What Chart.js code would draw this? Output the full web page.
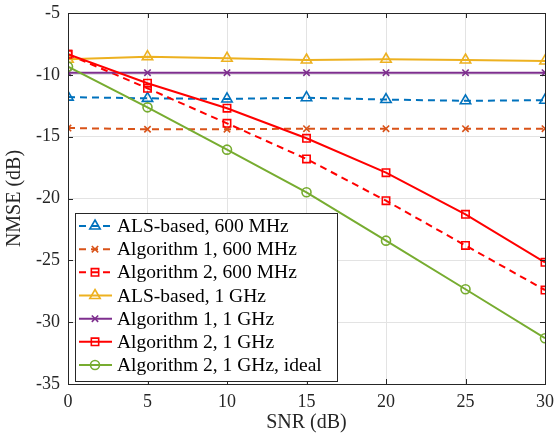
<!DOCTYPE html>
<html lang="en">
<head>
  <meta charset="UTF-8">
  <title>NMSE vs SNR</title>
  <script src="https://cdn.jsdelivr.net/npm/chart.js"></script>
  <style>
    body { margin: 0; background: white; }
    .wrap { position: relative; width: 555px; height: 436px; }
  </style>
</head>
<body>
  <div class="wrap">
    <canvas id="chart" width="555" height="436"></canvas>
  </div>
  <script>
    // data
    const snr = [0, 5, 10, 15, 20, 25, 30];
    const alsMHz600 = [-11.8, -11.9, -11.95, -11.85, -12.0, -12.1, -12.05];
    const alg1MHz600 = [-14.3, -14.4, -14.4, -14.35, -14.35, -14.35, -14.35];
    const alg2MHz600 = [-8.34, -11.09, -13.92, -16.8, -20.18, -23.8, -27.4];
    const alsGHz1 = [-8.74, -8.53, -8.66, -8.8, -8.74, -8.8, -8.88];
    const alg1GHz1 = [-9.83, -9.83, -9.83, -9.83, -9.83, -9.83, -9.83];
    const alg2GHz1 = [-8.34, -10.68, -12.7, -15.13, -17.91, -21.28, -25.16];
    const alg2Ideal = [-9.34, -12.63, -16.05, -19.5, -23.41, -27.34, -31.3];

    const labels = [
      'ALS-based, 600 MHz',
      'Algorithm 1, 600 MHz',
      'Algorithm 2, 600 MHz',
      'ALS-based, 1 GHz',
      'Algorithm 1, 1 GHz',
      'Algorithm 2, 1 GHz',
      'Algorithm 2, 1 GHz, ideal'
    ];

    const serif = "'Liberation Serif', 'DejaVu Serif', serif";
    const axisColor = '#262626';
    const dash = [7, 5];

    function series(label, values, color, style, radius, dashed, idx) {
      return {
        label: label,
        data: values.map((v, i) => ({ x: snr[i], y: v })),
        borderColor: color,
        backgroundColor: color,
        borderWidth: 2,
        borderDash: dashed ? dash : [],
        pointStyle: style,
        pointRadius: radius,
        pointBorderWidth: 1.6,
        pointBorderColor: color,
        pointBackgroundColor: 'rgba(0,0,0,0)',
        tension: 0,
        order: 10 - idx
      };
    }

    const datasets = [
      series(labels[0], alsMHz600, '#0072BD', 'triangle', 6, true, 0),
      series(labels[1], alg1MHz600, '#D95319', 'crossRot', 4.5, true, 1),
      series(labels[2], alg2MHz600, '#FF0000', 'rect', 5.2, true, 2),
      series(labels[3], alsGHz1, '#EDB120', 'triangle', 6, false, 3),
      series(labels[4], alg1GHz1, '#7E2F8E', 'crossRot', 4.5, false, 4),
      series(labels[5], alg2GHz1, '#FF0000', 'rect', 5.2, false, 5),
      series(labels[6], alg2Ideal, '#77AC30', 'circle', 4.5, false, 6)
    ];

    // box, inside ticks and the legend
    const framePlugin = {
      id: 'frame',
      afterDatasetsDraw(chart) {
        const ctx = chart.ctx;
        const a = chart.chartArea;
        const xs = chart.scales.x, ys = chart.scales.y;
        ctx.save();
        ctx.strokeStyle = axisColor;
        ctx.lineWidth = 1;
        ctx.setLineDash([]);
        ctx.beginPath();
        xs.ticks.forEach(t => {
          const px = Math.round(xs.getPixelForValue(t.value)) + 0.5;
          ctx.moveTo(px, a.bottom); ctx.lineTo(px, a.bottom - 5);
          ctx.moveTo(px, a.top); ctx.lineTo(px, a.top + 5);
        });
        ys.ticks.forEach(t => {
          const py = Math.round(ys.getPixelForValue(t.value)) + 0.5;
          ctx.moveTo(a.left, py); ctx.lineTo(a.left + 5, py);
          ctx.moveTo(a.right, py); ctx.lineTo(a.right - 5, py);
        });
        ctx.stroke();
        ctx.strokeRect(Math.round(a.left) + 0.5, Math.round(a.top) + 0.5,
          Math.round(a.right - a.left), Math.round(a.bottom - a.top));

        // legend
        const lx = 75, ly = 213, lw = 262, lh = 168;
        ctx.fillStyle = 'white';
        ctx.fillRect(lx, ly, lw, lh);
        ctx.strokeStyle = axisColor;
        ctx.strokeRect(lx + 0.5, ly + 0.5, lw, lh);
        ctx.font = '19.5px ' + serif;
        ctx.textBaseline = 'middle';
        ctx.textAlign = 'left';
        chart.data.datasets.forEach((ds, i) => {
          const cy = ly + 13 + i * 23.17;
          ctx.strokeStyle = ds.borderColor;
          ctx.lineWidth = ds.borderWidth;
          ctx.setLineDash(ds.borderDash);
          ctx.beginPath();
          ctx.moveTo(lx + 4, cy);
          ctx.lineTo(lx + 37, cy);
          ctx.stroke();
          ctx.setLineDash([]);
          ctx.fillStyle = 'rgba(0,0,0,0)';
          ctx.lineWidth = ds.pointBorderWidth;
          Chart.helpers.drawPoint(ctx, {
            pointStyle: ds.pointStyle, radius: ds.pointRadius,
            borderWidth: ds.pointBorderWidth, rotation: 0
          }, lx + 20, cy);
          ctx.fillStyle = '#000';
          ctx.fillText(ds.label, lx + 42, cy + 1);
        });
        ctx.restore();
      }
    };

    new Chart(document.getElementById('chart'), {
      type: 'line',
      data: { datasets: datasets },
      options: {
        responsive: false,
        animation: false,
        layout: { padding: { top: 13, right: 10, left: 0, bottom: 0 } },
        plugins: { legend: { display: false }, tooltip: { enabled: false } },
        scales: {
          x: {
            type: 'linear',
            min: 0, max: 30,
            afterFit(s) { s.height = 52; s.paddingLeft = 0; s.paddingRight = 0; },
            ticks: { stepSize: 5, color: axisColor, padding: 7, font: { family: serif, size: 18 }, maxRotation: 0 },
            grid: { color: '#e3e3e3', drawTicks: false },
            border: { display: false },
            title: { display: true, text: 'SNR (dB)', color: axisColor, font: { family: serif, size: 20 }, padding: { bottom: 1, top: 0 } }
          },
          y: {
            type: 'linear',
            min: -35, max: -5,
            afterFit(s) { s.width = 68; s.paddingTop = 0; s.paddingBottom = 0; },
            ticks: { stepSize: 5, color: axisColor, padding: 8, font: { family: serif, size: 18 } },
            grid: { color: '#e3e3e3', drawTicks: false },
            border: { display: false },
            title: { display: true, text: 'NMSE (dB)', color: axisColor, font: { family: serif, size: 20 }, padding: { top: 2.5, bottom: 0 } }
          }
        }
      },
      plugins: [framePlugin]
    });
  </script>
</body>
</html>
